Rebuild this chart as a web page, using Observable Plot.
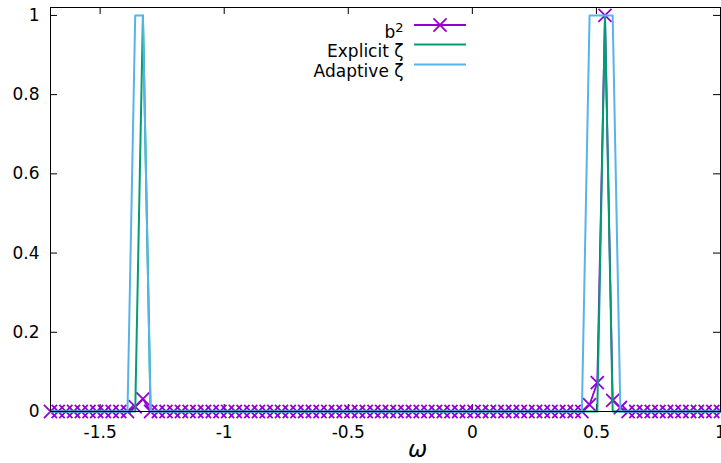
<!DOCTYPE html>
<html>
<head>
<meta charset="utf-8">
<script src="https://cdn.jsdelivr.net/npm/d3@7"></script>
<script src="https://cdn.jsdelivr.net/npm/@observablehq/plot@0.6"></script>
<style>
  html, body { margin: 0; padding: 0; background: white; }
  svg { display: block; }
</style>
</head>
<body>
<div id="chart"></div>
<script>
// ω sample grid
const omega = [
  -1.7000, -1.6690, -1.6379, -1.6069, -1.5759, -1.5448, -1.5138, -1.4828, -1.4517, -1.4207,
  -1.3897, -1.3586, -1.3276, -1.2966, -1.2655, -1.2345, -1.2034, -1.1724, -1.1414, -1.1103,
  -1.0793, -1.0483, -1.0172, -0.9862, -0.9552, -0.9241, -0.8931, -0.8621, -0.8310, -0.8000,
  -0.7690, -0.7379, -0.7069, -0.6759, -0.6448, -0.6138, -0.5828, -0.5517, -0.5207, -0.4897,
  -0.4586, -0.4276, -0.3966, -0.3655, -0.3345, -0.3034, -0.2724, -0.2414, -0.2103, -0.1793,
  -0.1483, -0.1172, -0.0862, -0.0552, -0.0241, 0.0069, 0.0379, 0.0690, 0.1000, 0.1310,
  0.1621, 0.1931, 0.2241, 0.2552, 0.2862, 0.3172, 0.3483, 0.3793, 0.4103, 0.4414,
  0.4724, 0.5034, 0.5345, 0.5655, 0.5966, 0.6276, 0.6586, 0.6897, 0.7207, 0.7517,
  0.7828, 0.8138, 0.8448, 0.8759, 0.9069, 0.9379, 0.9690, 1.0000
];
// b^2 values
const b2 = [
  0, 0, 0, 0, 0, 0, 0, 0, 0, 0,
  0, 0.012, 0.032, 0, 0, 0, 0, 0, 0, 0,
  0, 0, 0, 0, 0, 0, 0, 0, 0, 0,
  0, 0, 0, 0, 0, 0, 0, 0, 0, 0,
  0, 0, 0, 0, 0, 0, 0, 0, 0, 0,
  0, 0, 0, 0, 0, 0, 0, 0, 0, 0,
  0, 0, 0, 0, 0, 0, 0, 0, 0, 0,
  0.017, 0.073, 1.0, 0.028, 0.01, 0, 0, 0, 0, 0,
  0, 0, 0, 0, 0, 0, 0, 0
];
// Explicit ζ
const explicitZeta = [
  0, 0, 0, 0, 0, 0, 0, 0, 0, 0,
  0, 0, 1, 0, 0, 0, 0, 0, 0, 0,
  0, 0, 0, 0, 0, 0, 0, 0, 0, 0,
  0, 0, 0, 0, 0, 0, 0, 0, 0, 0,
  0, 0, 0, 0, 0, 0, 0, 0, 0, 0,
  0, 0, 0, 0, 0, 0, 0, 0, 0, 0,
  0, 0, 0, 0, 0, 0, 0, 0, 0, 0,
  0, 0, 1, 0, 0, 0, 0, 0, 0, 0,
  0, 0, 0, 0, 0, 0, 0, 0
];
// Adaptive ζ
const adaptiveZeta = [
  0, 0, 0, 0, 0, 0, 0, 0, 0, 0,
  0, 1, 1, 0, 0, 0, 0, 0, 0, 0,
  0, 0, 0, 0, 0, 0, 0, 0, 0, 0,
  0, 0, 0, 0, 0, 0, 0, 0, 0, 0,
  0, 0, 0, 0, 0, 0, 0, 0, 0, 0,
  0, 0, 0, 0, 0, 0, 0, 0, 0, 0,
  0, 0, 0, 0, 0, 0, 0, 0, 0, 0,
  1, 1, 1, 1, 0, 0, 0, 0, 0, 0,
  0, 0, 0, 0, 0, 0, 0, 0
];
const xTicks = [-1.5, -1, -0.5, 0, 0.5, 1];
const yTicks = [0, 0.2, 0.4, 0.6, 0.8, 1];
const seriesNames = ["b2", "Explicit ζ", "Adaptive ζ"];
const xLabel = "ω";

const colors = {b2: "#9400d3", explicit: "#009e73", adaptive: "#56b4e9"};

const data = omega.map((w, i) => ({omega: w, b2: b2[i], explicit: explicitZeta[i], adaptive: adaptiveZeta[i]}));

const W = 721, H = 463;
const mL = 50, mR = 1, mT = 7, mB = 52;
const innerW = W - mL - mR, innerH = H - mT - mB;
const tickLen = 7;

const chart = Plot.plot({
  width: W, height: H,
  marginLeft: mL, marginRight: mR, marginTop: mT, marginBottom: mB,
  x: {domain: [-1.7, 1]},
  y: {domain: [0, 1.02]},
  style: {fontFamily: "DejaVu Sans", fontSize: "17px", background: "white", color: "black", overflow: "visible"},
  marks: [
    Plot.axisX({ticks: xTicks, tickSize: 0, tickPadding: 14, tickFormat: d => String(d), fontSize: 17, label: null}),
    Plot.axisY({ticks: yTicks, tickSize: 0, tickPadding: 11, tickFormat: d => String(d), fontSize: 17, label: null}),
    Plot.tickX(xTicks, {x: d => d, insetTop: innerH - tickLen, stroke: "black"}),
    Plot.tickX(xTicks, {x: d => d, insetBottom: innerH - tickLen, stroke: "black"}),
    Plot.tickY(yTicks, {y: d => d, insetRight: innerW - tickLen, stroke: "black"}),
    Plot.tickY(yTicks, {y: d => d, insetLeft: innerW - tickLen, stroke: "black"}),
    Plot.line(data, {x: "omega", y: "b2", stroke: colors.b2, strokeWidth: 1.8}),
    Plot.dot(data, {x: "omega", y: "b2", symbol: "times", r: 6, stroke: colors.b2, strokeWidth: 1.8}),
    Plot.line(data, {x: "omega", y: "explicit", stroke: colors.explicit, strokeWidth: 2}),
    Plot.line(data, {x: "omega", y: "adaptive", stroke: colors.adaptive, strokeWidth: 2}),
    Plot.frame({stroke: "black", strokeWidth: 1}),
    Plot.text([xLabel], {frameAnchor: "bottom", dx: 32, dy: 45, fontStyle: "italic", fontSize: 23, fill: "black"}),
    Plot.text([seriesNames[0]], {frameAnchor: "top-left", dx: 353, dy: 18, textAnchor: "end", fontSize: 17, fill: "black"}),
    Plot.text([seriesNames[1]], {frameAnchor: "top-left", dx: 353, dy: 37.5, textAnchor: "end", fontSize: 17, fill: "black"}),
    Plot.text([seriesNames[2]], {frameAnchor: "top-left", dx: 353, dy: 57.5, textAnchor: "end", fontSize: 17, fill: "black"})
  ]
});

const svg = d3.select(chart);
// superscript for b^2
svg.selectAll("text").filter(function() { return this.textContent === "b2"; }).each(function() {
  const t = d3.select(this);
  t.text("b");
  t.append("tspan").attr("dy", "-0.45em").attr("font-size", "13px").text("2");
});

// legend samples
const legendY = [25, 44.5, 64.5];
const legendColors = [colors.b2, colors.explicit, colors.adaptive];
const lg = svg.append("g");
legendY.forEach((y, i) => {
  lg.append("line").attr("x1", 414).attr("x2", 466).attr("y1", y).attr("y2", y)
    .attr("stroke", legendColors[i]).attr("stroke-width", i === 0 ? 1.8 : 2);
});
lg.append("path").attr("transform", `translate(440,${legendY[0]})`)
  .attr("d", d3.symbol(d3.symbolTimes, Math.PI * 36)())
  .attr("fill", "none").attr("stroke", colors.b2).attr("stroke-width", 1.8);

document.getElementById("chart").appendChild(chart);
</script>
</body>
</html>
